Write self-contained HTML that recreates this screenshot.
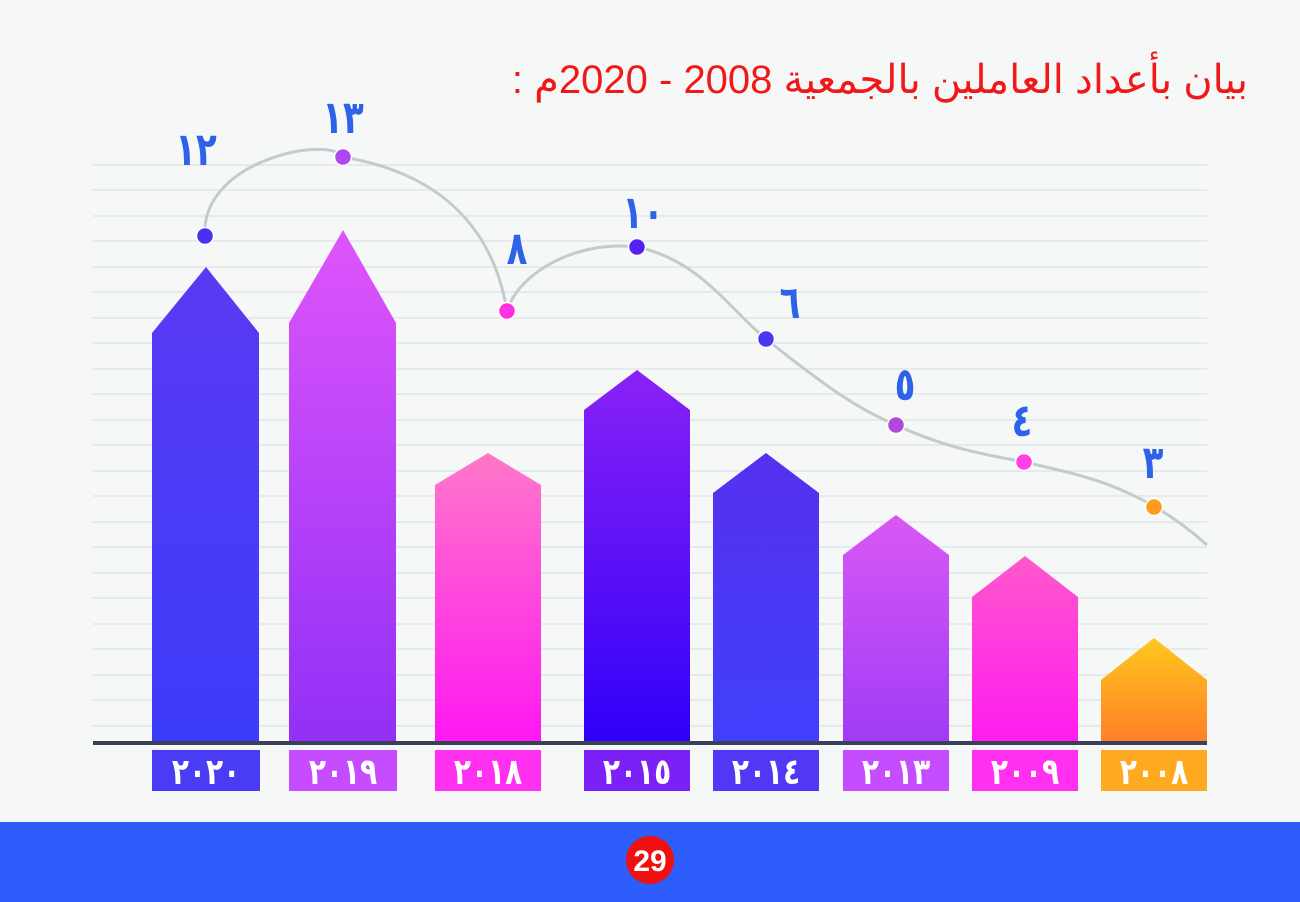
<!DOCTYPE html><html><head><meta charset="utf-8"><style>
body{margin:0;width:1300px;height:902px;overflow:hidden;background:#f6f8f8;font-family:"Liberation Sans","Noto Sans CJK SC",sans-serif;position:relative}
#t{position:absolute;right:52px;top:57px;color:#f01818;font-size:40px;direction:rtl;white-space:nowrap;font-family:"Liberation Sans","Noto Sans CJK SC",sans-serif}
svg{position:absolute;left:0;top:0}
</style></head><body>
<svg width="1300" height="902" xmlns="http://www.w3.org/2000/svg">
<defs>
<linearGradient id="g1" x1="0" y1="0" x2="0" y2="1"><stop offset="0" stop-color="#5a3af2"/><stop offset="1" stop-color="#3c3cfa"/></linearGradient>
<linearGradient id="g2" x1="0" y1="0" x2="0" y2="1"><stop offset="0" stop-color="#de55fb"/><stop offset="1" stop-color="#9230f6"/></linearGradient>
<linearGradient id="g3" x1="0" y1="0" x2="0" y2="1"><stop offset="0" stop-color="#ff78c8"/><stop offset="1" stop-color="#ff18f2"/></linearGradient>
<linearGradient id="g4" x1="0" y1="0" x2="0" y2="1"><stop offset="0" stop-color="#8a22f6"/><stop offset="1" stop-color="#3000f8"/></linearGradient>
<linearGradient id="g5" x1="0" y1="0" x2="0" y2="1"><stop offset="0" stop-color="#5630ee"/><stop offset="1" stop-color="#4040fc"/></linearGradient>
<linearGradient id="g6" x1="0" y1="0" x2="0" y2="1"><stop offset="0" stop-color="#d858f4"/><stop offset="1" stop-color="#a03cf6"/></linearGradient>
<linearGradient id="g7" x1="0" y1="0" x2="0" y2="1"><stop offset="0" stop-color="#ff58cc"/><stop offset="1" stop-color="#ff1cf0"/></linearGradient>
<linearGradient id="g8" x1="0" y1="0" x2="0" y2="1"><stop offset="0" stop-color="#ffc81e"/><stop offset="1" stop-color="#ff8028"/></linearGradient>
</defs>
<g stroke="#e2e5e8" stroke-width="1.5">
<line x1="93" y1="165" x2="1207" y2="165"/><line x1="93" y1="190" x2="1207" y2="190"/><line x1="93" y1="216" x2="1207" y2="216"/><line x1="93" y1="241" x2="1207" y2="241"/><line x1="93" y1="267" x2="1207" y2="267"/><line x1="93" y1="292" x2="1207" y2="292"/><line x1="93" y1="318" x2="1207" y2="318"/><line x1="93" y1="343" x2="1207" y2="343"/><line x1="93" y1="369" x2="1207" y2="369"/><line x1="93" y1="394" x2="1207" y2="394"/><line x1="93" y1="420" x2="1207" y2="420"/><line x1="93" y1="445" x2="1207" y2="445"/><line x1="93" y1="471" x2="1207" y2="471"/><line x1="93" y1="496" x2="1207" y2="496"/><line x1="93" y1="522" x2="1207" y2="522"/><line x1="93" y1="547" x2="1207" y2="547"/><line x1="93" y1="573" x2="1207" y2="573"/><line x1="93" y1="598" x2="1207" y2="598"/><line x1="93" y1="624" x2="1207" y2="624"/><line x1="93" y1="649" x2="1207" y2="649"/><line x1="93" y1="675" x2="1207" y2="675"/><line x1="93" y1="700" x2="1207" y2="700"/><line x1="93" y1="726" x2="1207" y2="726"/>
</g>
<polygon fill="url(#g1)" points="152,741 152,333 206,267 259,333 259,741"/>
<polygon fill="url(#g2)" points="289,741 289,323 343,230 396,323 396,741"/>
<polygon fill="url(#g3)" points="435,741 435,485 488,453 541,485 541,741"/>
<polygon fill="url(#g4)" points="584,741 584,410 637,370 690,410 690,741"/>
<polygon fill="url(#g5)" points="713,741 713,493 766,453 819,493 819,741"/>
<polygon fill="url(#g6)" points="843,741 843,555 896,515 949,555 949,741"/>
<polygon fill="url(#g7)" points="972,741 972,597 1025,556 1078,597 1078,741"/>
<polygon fill="url(#g8)" points="1101,741 1101,680 1154,638 1207,680 1207,741"/>
<rect x="93" y="741" width="1114" height="4" fill="#3a4058"/>
<path d="M205,236 C200,160 330,135 343,157 C420,170 490,210 507,311 C520,270 580,240 637,247 C700,260 730,310 766,339 C830,390 860,410 896,425 C950,450 990,455 1024,462 C1080,475 1140,485 1207,545" fill="none" stroke="#c2cccc" stroke-width="3"/>
<g stroke="#fff" stroke-width="1.5">
<circle cx="205" cy="236" r="8.5" fill="#4a30f0"/><circle cx="343" cy="157" r="8.5" fill="#b048f0"/><circle cx="507" cy="311" r="8.5" fill="#ff30e0"/><circle cx="637" cy="247" r="8.5" fill="#5820f0"/><circle cx="766" cy="339" r="8.5" fill="#4a38f0"/><circle cx="896" cy="425" r="8.5" fill="#b048e0"/><circle cx="1024" cy="462" r="8.5" fill="#ff40e8"/><circle cx="1154" cy="507" r="8.5" fill="#ff9a20"/>
</g>
<g fill="#2e62e8" font-size="34" font-weight="bold" text-anchor="middle" font-family="DejaVu Sans, sans-serif">
<text transform="translate(196 165) scale(1 1.35)">١٢</text>
<text transform="translate(343 133) scale(1 1.35)">١٣</text>
<text transform="translate(517 264) scale(1 1.35)">٨</text>
<text transform="translate(643 228) scale(1 1.35)">١٠</text>
<text transform="translate(790 318) scale(1 1.35)">٦</text>
<text transform="translate(905 400) scale(1 1.35)">٥</text>
<text transform="translate(1022 436) scale(1 1.35)">٤</text>
<text transform="translate(1153 478) scale(1 1.35)">٣</text>
</g>
<rect x="152" y="750" width="108" height="41" fill="#4a3cf5"/><rect x="289" y="750" width="108" height="41" fill="#c64cff"/><rect x="435" y="750" width="106" height="41" fill="#ff30f0"/><rect x="584" y="750" width="106" height="41" fill="#7c20f8"/><rect x="713" y="750" width="106" height="41" fill="#5038f4"/><rect x="843" y="750" width="106" height="41" fill="#c64cff"/><rect x="972" y="750" width="106" height="41" fill="#ff30f0"/><rect x="1101" y="750" width="106" height="41" fill="#ffaa20"/>
<g fill="#fff" font-size="28" font-weight="bold" text-anchor="middle" font-family="DejaVu Sans, sans-serif">
<text transform="translate(206 784) scale(1 1.3)">٢٠٢٠</text><text transform="translate(343 784) scale(1 1.3)">٢٠١٩</text><text transform="translate(488 784) scale(1 1.3)">٢٠١٨</text><text transform="translate(637 784) scale(1 1.3)">٢٠١٥</text><text transform="translate(766 784) scale(1 1.3)">٢٠١٤</text><text transform="translate(896 784) scale(1 1.3)">٢٠١٣</text><text transform="translate(1025 784) scale(1 1.3)">٢٠٠٩</text><text transform="translate(1154 784) scale(1 1.3)">٢٠٠٨</text>
</g>
<rect x="0" y="822" width="1300" height="80" fill="#2d5efc"/>
<circle cx="650" cy="860" r="24" fill="#f01010"/>
<text x="650" y="871" fill="#fff" font-size="30" font-weight="bold" text-anchor="middle">29</text>
</svg>
<div id="t">بيان بأعداد العاملين بالجمعية 2008 - 2020م :</div>
</body></html>
